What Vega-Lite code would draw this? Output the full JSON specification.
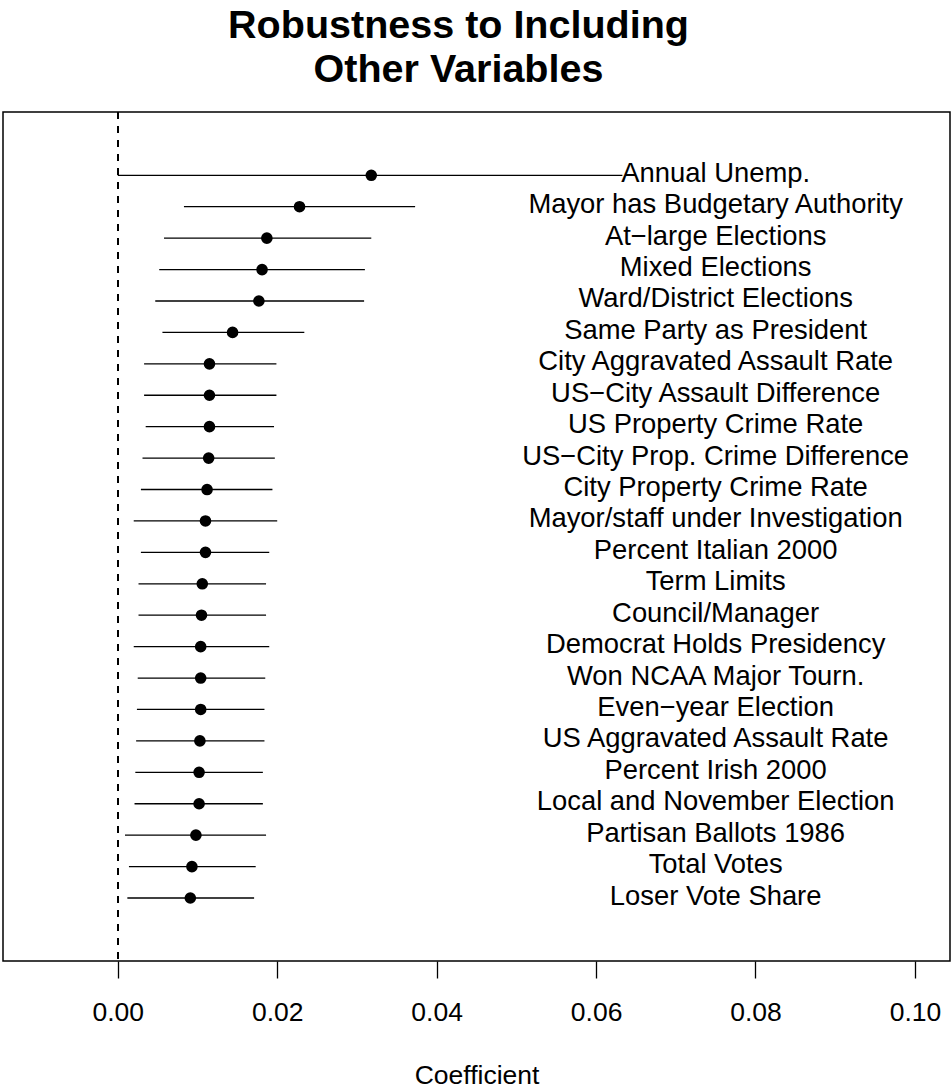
{
  "$schema": "https://vega.github.io/schema/vega-lite/v6.json",
  "width": 947,
  "height": 849,
  "autosize": {"type": "none"},
  "padding": {"left": 3, "top": 112, "right": 1, "bottom": 131},
  "background": "white",
  "config": {
    "view": {"stroke": "black", "strokeWidth": 1.5},
    "font": "Liberation Sans"
  },
  "title": {
    "text": ["Robustness to Including", "Other Variables"],
    "font": "Liberation Sans",
    "fontSize": 39.5,
    "fontWeight": "bold",
    "color": "black",
    "lineHeight": 43.4,
    "anchor": "middle",
    "frame": "group",
    "offset": 21,
    "dx": -18
  },
  "data": {
    "values": [
      {"label": "Annual Unemp.", "est": 0.0318, "lo": 0.0000, "hi": 0.0633},
      {"label": "Mayor has Budgetary Authority", "est": 0.0228, "lo": 0.0083, "hi": 0.0373},
      {"label": "At−large Elections", "est": 0.0187, "lo": 0.0058, "hi": 0.0318},
      {"label": "Mixed Elections", "est": 0.0181, "lo": 0.0052, "hi": 0.0310},
      {"label": "Ward/District Elections", "est": 0.0177, "lo": 0.0047, "hi": 0.0309},
      {"label": "Same Party as President", "est": 0.0144, "lo": 0.0056, "hi": 0.0234},
      {"label": "City Aggravated Assault Rate", "est": 0.0115, "lo": 0.0033, "hi": 0.0199},
      {"label": "US−City Assault Difference", "est": 0.0115, "lo": 0.0033, "hi": 0.0199},
      {"label": "US Property Crime Rate", "est": 0.0115, "lo": 0.0035, "hi": 0.0196},
      {"label": "US−City Prop. Crime Difference", "est": 0.0114, "lo": 0.0031, "hi": 0.0197},
      {"label": "City Property Crime Rate", "est": 0.0112, "lo": 0.0029, "hi": 0.0194},
      {"label": "Mayor/staff under Investigation", "est": 0.0110, "lo": 0.0020, "hi": 0.0200},
      {"label": "Percent Italian 2000", "est": 0.0110, "lo": 0.0029, "hi": 0.0190},
      {"label": "Term Limits", "est": 0.0106, "lo": 0.0026, "hi": 0.0186},
      {"label": "Council/Manager", "est": 0.0105, "lo": 0.0026, "hi": 0.0186},
      {"label": "Democrat Holds Presidency", "est": 0.0104, "lo": 0.0020, "hi": 0.0190},
      {"label": "Won NCAA Major Tourn.", "est": 0.0104, "lo": 0.0025, "hi": 0.0185},
      {"label": "Even−year Election", "est": 0.0104, "lo": 0.0024, "hi": 0.0184},
      {"label": "US Aggravated Assault Rate", "est": 0.0103, "lo": 0.0023, "hi": 0.0184},
      {"label": "Percent Irish 2000", "est": 0.0102, "lo": 0.0022, "hi": 0.0182},
      {"label": "Local and November Election", "est": 0.0102, "lo": 0.0021, "hi": 0.0182},
      {"label": "Partisan Ballots 1986", "est": 0.0098, "lo": 0.0009, "hi": 0.0186},
      {"label": "Total Votes", "est": 0.0093, "lo": 0.0014, "hi": 0.0173},
      {"label": "Loser Vote Share", "est": 0.0091, "lo": 0.0012, "hi": 0.0171}
    ]
  },
  "encoding": {
    "y": {
      "field": "label",
      "type": "nominal",
      "sort": null,
      "scale": {"type": "point", "padding": 0, "range": [63.3, 786]},
      "axis": null
    }
  },
  "layer": [
    {
      "mark": {"type": "rule", "color": "black", "strokeWidth": 1.3, "strokeDash": [7, 7]},
      "encoding": {
        "x": {"datum": 0, "type": "quantitative"},
        "y": null
      }
    },
    {
      "mark": {"type": "rule", "color": "black", "strokeWidth": 1.3},
      "encoding": {
        "x": {
          "field": "lo",
          "type": "quantitative",
          "scale": {"domain": [-0.0144, 0.1044], "nice": false, "zero": false},
          "axis": {
            "values": [0, 0.02, 0.04, 0.06, 0.08, 0.1],
            "format": ".2f",
            "title": "Coefficient",
            "grid": false,
            "domain": false,
            "tickSize": 17,
            "tickWidth": 1.3,
            "tickColor": "black",
            "labelFont": "Liberation Sans",
            "labelFontSize": 26.5,
            "labelColor": "black",
            "labelPadding": 21,
            "labelFlush": false,
            "titleFont": "Liberation Sans",
            "titleFontSize": 26.5,
            "titleFontWeight": "normal",
            "titleColor": "black",
            "titlePadding": 37
          }
        },
        "x2": {"field": "hi"}
      }
    },
    {
      "mark": {"type": "circle", "color": "black", "opacity": 1, "size": 135},
      "encoding": {
        "x": {"field": "est", "type": "quantitative"}
      }
    },
    {
      "mark": {"type": "text", "color": "black", "font": "Liberation Sans", "fontSize": 27.4, "align": "center", "baseline": "alphabetic", "dy": 6.5},
      "encoding": {
        "x": {"datum": 0.075, "type": "quantitative"},
        "text": {"field": "label"}
      }
    }
  ]
}
